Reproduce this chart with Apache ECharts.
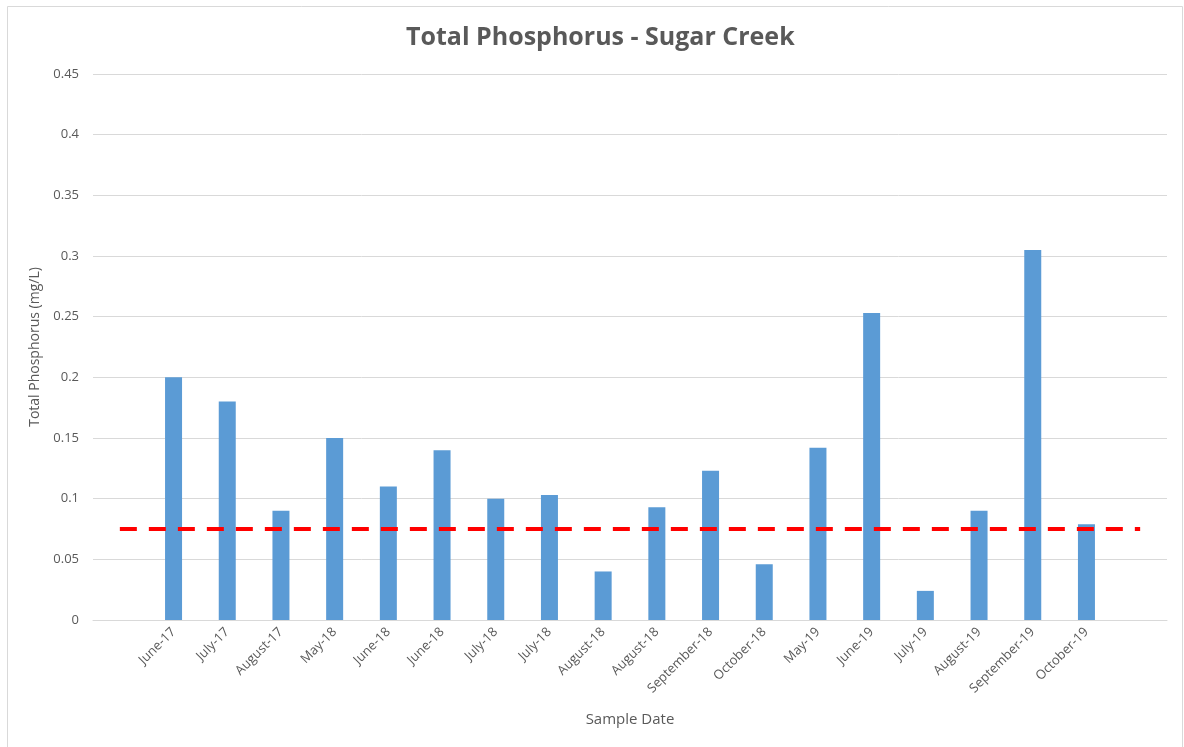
<!DOCTYPE html>
<html>
<head>
<meta charset="utf-8">
<script src="https://cdn.jsdelivr.net/npm/echarts@6/dist/echarts.min.js"></script>
<style>html,body{margin:0;padding:0;background:#fff}#c{width:1184px;height:747px}</style>
</head>
<body>
<div id="c"></div>
<script>
const categories = ['June-17','July-17','August-17','May-18','June-18','June-18','July-18','July-18','August-18','August-18','September-18','October-18','May-19','June-19','July-19','August-19','September-19','October-19'];
const phosphorus = [0.200,0.180,0.090,0.150,0.110,0.140,0.100,0.103,0.040,0.093,0.123,0.046,0.142,0.253,0.024,0.090,0.305,0.079];
const threshold = 0.075;
const yTicks = [0,0.05,0.1,0.15,0.2,0.25,0.3,0.35,0.4,0.45];

// Excel chart has one blank category at each end
const axisCats = [''].concat(categories, ['']);
const barData = [null].concat(phosphorus, [null]);
const lineData = axisCats.map(() => threshold);

const font = 'Open Sans';
const chart = echarts.init(document.getElementById('c'));
chart.setOption({
  animation: false,
  backgroundColor: '#fff',
  title: {
    text: 'Total Phosphorus - Sugar Creek',
    left: 401, top: 20,
    textStyle: {fontFamily: font, fontSize: 25, fontWeight: 'bold', color: '#595959'}
  },
  graphic: [{
    type: 'rect', left: 5, top: 4,
    shape: {width: 1175, height: 741},
    style: {fill: 'none', stroke: '#D9D9D9', lineWidth: 1}
  }],
  grid: {left: 93, right: 17, top: 74, bottom: 127},
  xAxis: {
    type: 'category',
    data: axisCats,
    boundaryGap: true,
    axisLine: {show: true, lineStyle: {color: '#D9D9D9'}},
    axisTick: {show: false},
    axisLabel: {rotate: 45, interval: 0, fontFamily: font, fontSize: 13, color: '#595959', margin: 10},
    name: 'Sample Date',
    nameLocation: 'middle',
    nameGap: 92,
    nameTextStyle: {fontFamily: font, fontSize: 15, color: '#595959'}
  },
  yAxis: {
    type: 'value',
    min: yTicks[0], max: yTicks[yTicks.length - 1], interval: 0.05,
    axisLine: {show: false},
    axisTick: {show: false},
    splitLine: {lineStyle: {color: '#D9D9D9', width: 1}},
    axisLabel: {fontFamily: font, fontSize: 13, color: '#595959', margin: 14},
    name: 'Total Phosphorus (mg/L)',
    nameLocation: 'middle',
    nameGap: 48,
    nameTextStyle: {fontFamily: font, fontSize: 14, color: '#595959'}
  },
  series: [{
    type: 'bar',
    data: barData,
    barWidth: 17,
    itemStyle: {color: '#5B9BD5'}
  }, {
    type: 'line',
    data: lineData,
    symbol: 'none',
    lineStyle: {color: '#FF0000', width: 4, type: [17, 12]},
    z: 5
  }]
});
</script>
</body>
</html>
